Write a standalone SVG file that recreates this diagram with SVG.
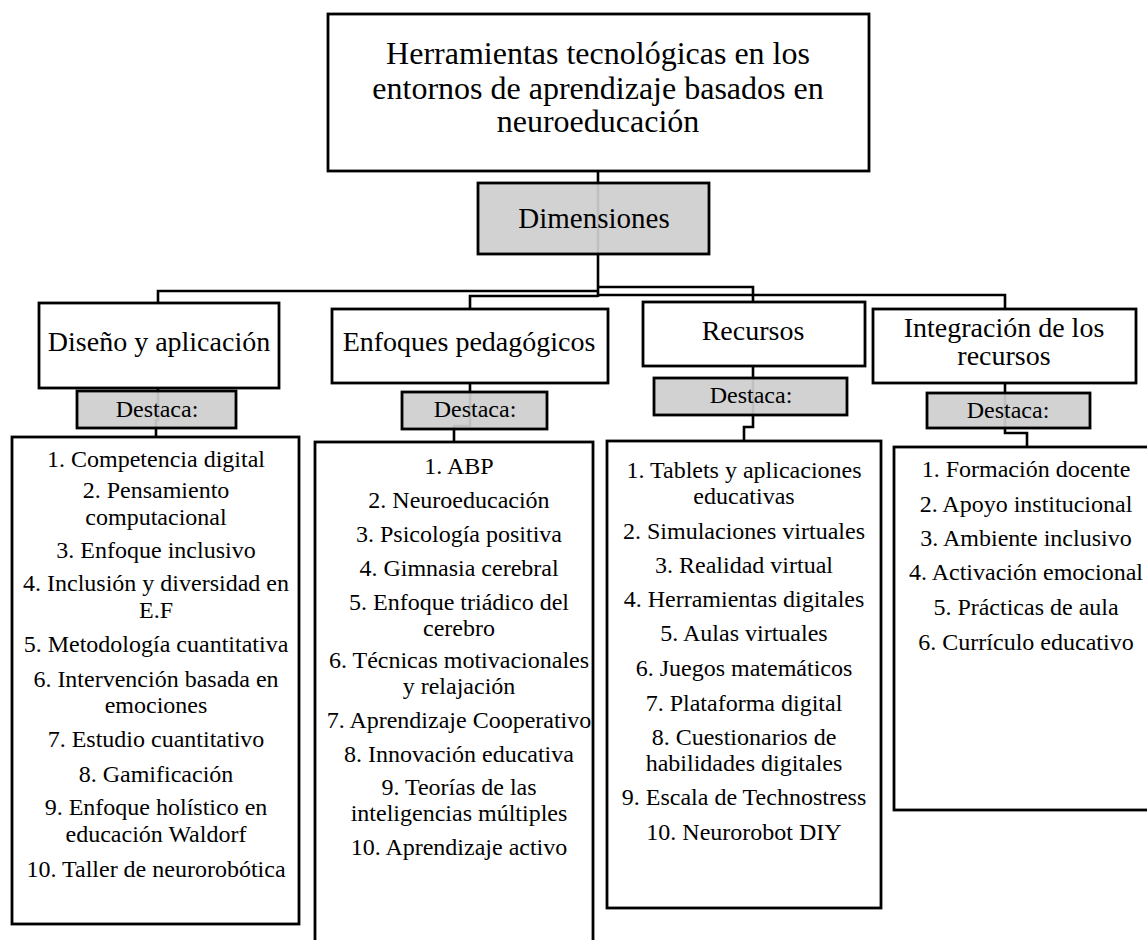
<svg xmlns="http://www.w3.org/2000/svg" width="1147" height="940" viewBox="0 0 1147 940">
<style>
text{font-family:"Liberation Serif","Times New Roman",serif;fill:#000;text-anchor:middle}
.box{fill:#fff;stroke:#000;stroke-width:2.8}
.grey{fill:#cfcfcf;fill-opacity:0.93;stroke:#000;stroke-width:2.8}
.conn{fill:none;stroke:#000;stroke-width:2.6}
.t32{font-size:32px}
.t29{font-size:29px}
.t28{font-size:28px}
.t24{font-size:24px}
</style>
<rect width="1147" height="940" fill="#fff"/>
<g id="connectors">
<path class="conn" d="M598,171 V297"/>
<path class="conn" d="M598,291 H158 V303"/>
<path class="conn" d="M598,296 H470 V309"/>
<path class="conn" d="M598,287 H753 V302"/>
<path class="conn" d="M598,295 H1005 V309"/>
<path class="conn" d="M158,388 V420 H156 V437"/>
<path class="conn" d="M470,383 V426 H454 V442"/>
<path class="conn" d="M753,366 V427 H744 V441"/>
<path class="conn" d="M1005,383 V433 H1027 V447"/>
</g>
<g id="title">
<rect class="box" x="328" y="14" width="541" height="157"/>
<text class="t32" x="598" y="64">Herramientas tecnológicas en los</text>
<text class="t32" x="598" y="99">entornos de aprendizaje basados en</text>
<text class="t32" x="598" y="132">neuroeducación</text>
</g>
<g id="dimensiones">
<rect class="grey" x="478" y="183" width="231" height="71"/>
<text class="t29" x="594" y="228">Dimensiones</text>
</g>
<g id="diseno">
<rect class="box" x="39" y="303" width="240" height="85"/>
<text class="t28" x="159" y="351">Diseño y aplicación</text>
</g>
<g id="diseno-destaca">
<rect class="grey" x="77" y="391" width="159" height="37"/>
<text class="t24" x="157" y="417">Destaca:</text>
</g>
<g id="diseno-lista">
<rect class="box" x="12" y="437" width="287" height="487"/>
<text class="t24" x="156" y="467">1. Competencia digital</text>
<text class="t24" x="156" y="498">2. Pensamiento</text>
<text class="t24" x="156" y="525">computacional</text>
<text class="t24" x="156" y="558">3. Enfoque inclusivo</text>
<text class="t24" x="156" y="591">4. Inclusión y diversidad en</text>
<text class="t24" x="156" y="618">E.F</text>
<text class="t24" x="156" y="652">5. Metodología cuantitativa</text>
<text class="t24" x="156" y="687">6. Intervención basada en</text>
<text class="t24" x="156" y="713">emociones</text>
<text class="t24" x="156" y="747">7. Estudio cuantitativo</text>
<text class="t24" x="156" y="782">8. Gamificación</text>
<text class="t24" x="156" y="815">9. Enfoque holístico en</text>
<text class="t24" x="156" y="842">educación Waldorf</text>
<text class="t24" x="156" y="877">10. Taller de neurorobótica</text>
</g>
<g id="enfoques">
<rect class="box" x="332" y="309" width="276" height="74"/>
<text class="t28" x="469" y="351">Enfoques pedagógicos</text>
</g>
<g id="enfoques-destaca">
<rect class="grey" x="402" y="392" width="145" height="37"/>
<text class="t24" x="475" y="417">Destaca:</text>
</g>
<g id="enfoques-lista">
<rect class="box" x="315" y="442" width="278" height="510"/>
<text class="t24" x="459" y="474">1. ABP</text>
<text class="t24" x="459" y="508">2. Neuroeducación</text>
<text class="t24" x="459" y="542">3. Psicología positiva</text>
<text class="t24" x="459" y="576">4. Gimnasia cerebral</text>
<text class="t24" x="459" y="610">5. Enfoque triádico del</text>
<text class="t24" x="459" y="636">cerebro</text>
<text class="t24" x="459" y="668">6. Técnicas motivacionales</text>
<text class="t24" x="459" y="694">y relajación</text>
<text class="t24" x="459" y="728">7. Aprendizaje Cooperativo</text>
<text class="t24" x="459" y="762">8. Innovación educativa</text>
<text class="t24" x="459" y="795">9. Teorías de las</text>
<text class="t24" x="459" y="821">inteligencias múltiples</text>
<text class="t24" x="459" y="855">10. Aprendizaje activo</text>
</g>
<g id="recursos">
<rect class="box" x="643" y="302" width="222" height="64"/>
<text class="t28" x="753" y="340">Recursos</text>
</g>
<g id="recursos-destaca">
<rect class="grey" x="654" y="378" width="193" height="37"/>
<text class="t24" x="751" y="403">Destaca:</text>
</g>
<g id="recursos-lista">
<rect class="box" x="607" y="441" width="274" height="467"/>
<text class="t24" x="744" y="478">1. Tablets y aplicaciones</text>
<text class="t24" x="744" y="504">educativas</text>
<text class="t24" x="744" y="539">2. Simulaciones virtuales</text>
<text class="t24" x="744" y="573">3. Realidad virtual</text>
<text class="t24" x="744" y="607">4. Herramientas digitales</text>
<text class="t24" x="744" y="641">5. Aulas virtuales</text>
<text class="t24" x="744" y="676">6. Juegos matemáticos</text>
<text class="t24" x="744" y="711">7. Plataforma digital</text>
<text class="t24" x="744" y="745">8. Cuestionarios de</text>
<text class="t24" x="744" y="771">habilidades digitales</text>
<text class="t24" x="744" y="805">9. Escala de Technostress</text>
<text class="t24" x="744" y="840">10. Neurorobot DIY</text>
</g>
<g id="integracion">
<rect class="box" x="873" y="309" width="263" height="74"/>
<text class="t28" x="1004" y="337">Integración de los</text>
<text class="t28" x="1004" y="365">recursos</text>
</g>
<g id="integracion-destaca">
<rect class="grey" x="927" y="393" width="163" height="35"/>
<text class="t24" x="1008" y="418">Destaca:</text>
</g>
<g id="integracion-lista">
<rect class="box" x="894" y="447" width="260" height="363"/>
<text class="t24" x="1026" y="477">1. Formación docente</text>
<text class="t24" x="1026" y="512">2. Apoyo institucional</text>
<text class="t24" x="1026" y="546">3. Ambiente inclusivo</text>
<text class="t24" x="1026" y="580">4. Activación emocional</text>
<text class="t24" x="1026" y="615">5. Prácticas de aula</text>
<text class="t24" x="1026" y="650">6. Currículo educativo</text>
</g>
</svg>
